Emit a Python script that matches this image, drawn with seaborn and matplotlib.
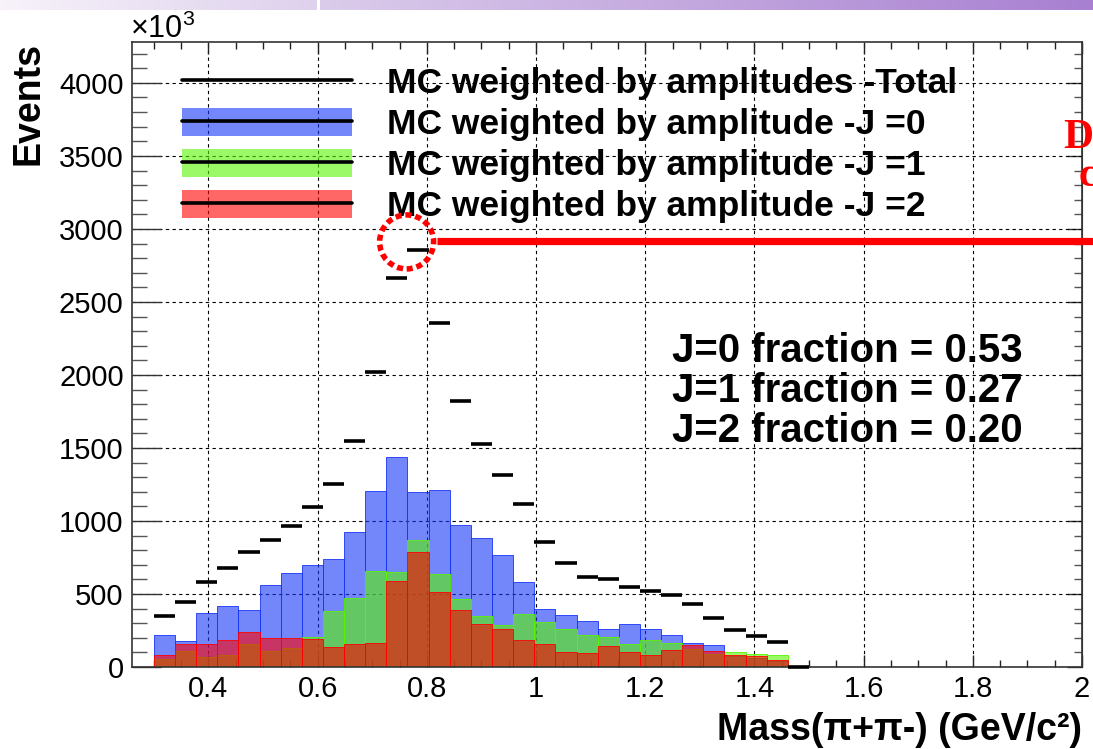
import numpy as np
import pandas as pd
import matplotlib
matplotlib.use("Agg")
import matplotlib.pyplot as plt
import seaborn as sns
from matplotlib.lines import Line2D
from matplotlib.patches import Patch, Ellipse
from matplotlib.legend_handler import HandlerTuple
from matplotlib.ticker import MultipleLocator, FuncFormatter, FixedLocator

# ---------------- data ----------------
mass_lo, mass_hi, n_bins = 0.3, 1.5, 31
total = [350, 443, 582, 676, 788, 868, 968, 1096, 1253, 1550, 2021, 2667, 2856, 2354,
         1824, 1525, 1315, 1116, 858, 714, 619, 600, 550, 523, 491, 434, 338, 253, 215, 171, 0]
j0 = [219, 178, 368, 415, 390, 562, 646, 701, 740, 927, 1205, 1438, 1201, 1212,
      975, 884, 767, 580, 395, 354, 313, 258, 295, 258, 217, 166, 149, 75, 65, 42, 0]
j1 = [57, 112, 68, 80, 160, 112, 130, 203, 384, 473, 658, 648, 870, 635,
      463, 349, 288, 363, 308, 258, 217, 203, 160, 185, 162, 121, 87, 105, 89, 82, 0]
j2 = [80, 155, 155, 185, 242, 199, 199, 192, 137, 160, 162, 587, 788, 514,
      390, 295, 258, 185, 160, 105, 94, 144, 105, 80, 116, 151, 112, 82, 75, 48, 0]
legend_labels = ["MC weighted by amplitudes -Total",
                 "MC weighted by amplitude -J =0",
                 "MC weighted by amplitude -J =1",
                 "MC weighted by amplitude -J =2"]
fraction_labels = ["J=0 fraction = 0.53", "J=1 fraction = 0.27", "J=2 fraction = 0.20"]
x_ticks = [0.4, 0.6, 0.8, 1.0, 1.2, 1.4, 1.6, 1.8, 2.0]
y_ticks = [0, 500, 1000, 1500, 2000, 2500, 3000, 3500, 4000]
x_range = (0.26, 2.0)
y_range = (0, 4280)
peak_mark = (0.763, 2911)

# ---------------- style ----------------
sns.set_style("white")
plt.rcParams['font.family'] = ['Liberation Sans', 'DejaVu Sans']
plt.rcParams['mathtext.fontset'] = 'custom'
plt.rcParams['mathtext.rm'] = 'Liberation Sans'
plt.rcParams['mathtext.it'] = 'Liberation Sans'
plt.rcParams['mathtext.bf'] = 'Liberation Sans:bold'
for k in ('text.color', 'axes.labelcolor', 'xtick.color', 'ytick.color'):
    plt.rcParams[k] = 'black'

c_blue = '#1635f7'
c_green = '#59f400'
c_red = '#ff0000'
alpha = 0.6

W, H = 1093, 749
fig = plt.figure(figsize=(W / 100, H / 100), dpi=100)
fig.patch.set_facecolor('white')

# slide banner at top
bax = fig.add_axes([0, 1 - 10 / H, 1, 10 / H])
grad = np.ones((1, W, 3))
left_part = np.linspace([0.97, 0.95, 0.98], [0.87, 0.82, 0.93], 317)
right_part = np.linspace([0.86, 0.80, 0.92], [0.66, 0.50, 0.82], W - 320)
grad[0, :317] = left_part
grad[0, 320:] = right_part
bax.imshow(grad, aspect='auto')
bax.axis('off')

ax = fig.add_axes([132 / W, 1 - 667 / H, 950 / W, 625 / H])

edges = np.linspace(mass_lo, mass_hi, n_bins + 1)
centers = (edges[:-1] + edges[1:]) / 2
df = pd.DataFrame({'mass': centers, 'total': total, 'J0': j0, 'J1': j1, 'J2': j2})
bin_list = edges.tolist()

for col, color in [('J0', c_blue), ('J1', c_green), ('J2', c_red)]:
    sns.histplot(data=df, x='mass', weights=col, bins=bin_list, color=color,
                 alpha=alpha, edgecolor=color, linewidth=0.6, ax=ax)

ax.hlines(df['total'], edges[:-1], edges[1:], color='black', lw=2.6,
          zorder=5, clip_on=False)

ax.set_xlim(*x_range)
ax.set_ylim(*y_range)

# ticks / grid
ax.xaxis.set_major_locator(FixedLocator(x_ticks))
ax.xaxis.set_minor_locator(MultipleLocator(0.05))
ax.yaxis.set_major_locator(FixedLocator(y_ticks))
ax.yaxis.set_minor_locator(MultipleLocator(100))
ax.xaxis.set_major_formatter(FuncFormatter(lambda v, p: f"{v:g}"))
ax.yaxis.set_major_formatter(FuncFormatter(lambda v, p: f"{int(round(v))}"))
ax.tick_params(axis='x', which='major', direction='in', length=8.6, width=1,
               top=True, bottom=True, labelsize=21, pad=6, color='#222222')
ax.tick_params(axis='x', which='minor', direction='in', length=4.7, width=1,
               top=True, bottom=True, color='#222222')
ax.tick_params(axis='y', which='major', direction='in', length=21, width=1,
               left=True, right=False, labelsize=21, pad=6, color='#333333')
ax.tick_params(axis='y', which='minor', direction='in', length=10.5, width=1,
               left=True, right=False, color='#555555')
sec = ax.secondary_yaxis('right')
sec.yaxis.set_major_locator(FixedLocator(y_ticks))
sec.yaxis.set_minor_locator(MultipleLocator(100))
sec.tick_params(which='major', direction='in', length=11, width=1, labelright=False, color='#333333')
sec.tick_params(which='minor', direction='in', length=6, width=1, color='#555555')
sec.spines['right'].set_color('#333333')

ax.grid(True, which='major', color='black', linestyle=(0, (3, 3)), linewidth=0.8)
for s in ax.spines.values():
    s.set_color('#333333')
    s.set_linewidth(1.2)

# labels
ax.set_xlabel("Mass(π+π-) (GeV/c²)", fontsize=27, fontweight='bold')
ax.xaxis.set_label_coords(1.0, -0.072)
ax.xaxis.label.set_horizontalalignment('right')
ax.xaxis.label.set_verticalalignment('top')
ax.set_ylabel("Events", fontsize=27, fontweight='bold')
ax.yaxis.set_label_coords(-0.09, 1.0)
ax.yaxis.label.set_horizontalalignment('right')

fig.text(130 / W, 1 - 38 / H, r'$\times10^{3}$', fontsize=22, ha='left', va='baseline')

# legend
line_kw = dict(color='black', lw=2.6)
handles = [Line2D([], [], **line_kw)]
for color in (c_blue, c_green, c_red):
    handles.append((Patch(facecolor=color, alpha=alpha, edgecolor='none'),
                    Line2D([], [], **line_kw)))
ax.legend(handles=handles, labels=legend_labels,
          handler_map={tuple: HandlerTuple(ndivide=1, pad=0)},
          loc='upper left', bbox_to_anchor=(0.0526, 0.961), frameon=False,
          prop={'weight': 'bold', 'size': 25.5}, handlelength=4.8, handleheight=0.85,
          handletextpad=0.99, labelspacing=0.22, borderpad=0, borderaxespad=0)

# fraction annotations
for i, txt in enumerate(fraction_labels):
    ax.text(0.568, 0.488 - 0.064 * i, txt, transform=ax.transAxes, fontsize=29,
            fontweight='bold', ha='left', va='baseline')

# slide annotations: dotted circle + red line + cut-off red letters
ax.add_patch(Ellipse(peak_mark, width=54 / 546, height=54 / 0.146, fill=False,
                     edgecolor='red', lw=4.0, linestyle=(0, (1.1, 0.7)), zorder=6,
                     clip_on=False))
ax.add_line(Line2D([0.818, 2.05], [2918, 2918], color='red', lw=5.2,
                   solid_capstyle='butt', clip_on=False, zorder=6))
fig.text(1063 / W, 1 - 148 / H, 'D', color='red', fontsize=30, fontweight='bold',
         family='Liberation Serif', ha='left', va='baseline')
fig.text(1079 / W, 1 - 186 / H, 'c', color='red', fontsize=30, fontweight='bold',
         family='Liberation Serif', ha='left', va='baseline')

fig.savefig('out.png', dpi=100)
